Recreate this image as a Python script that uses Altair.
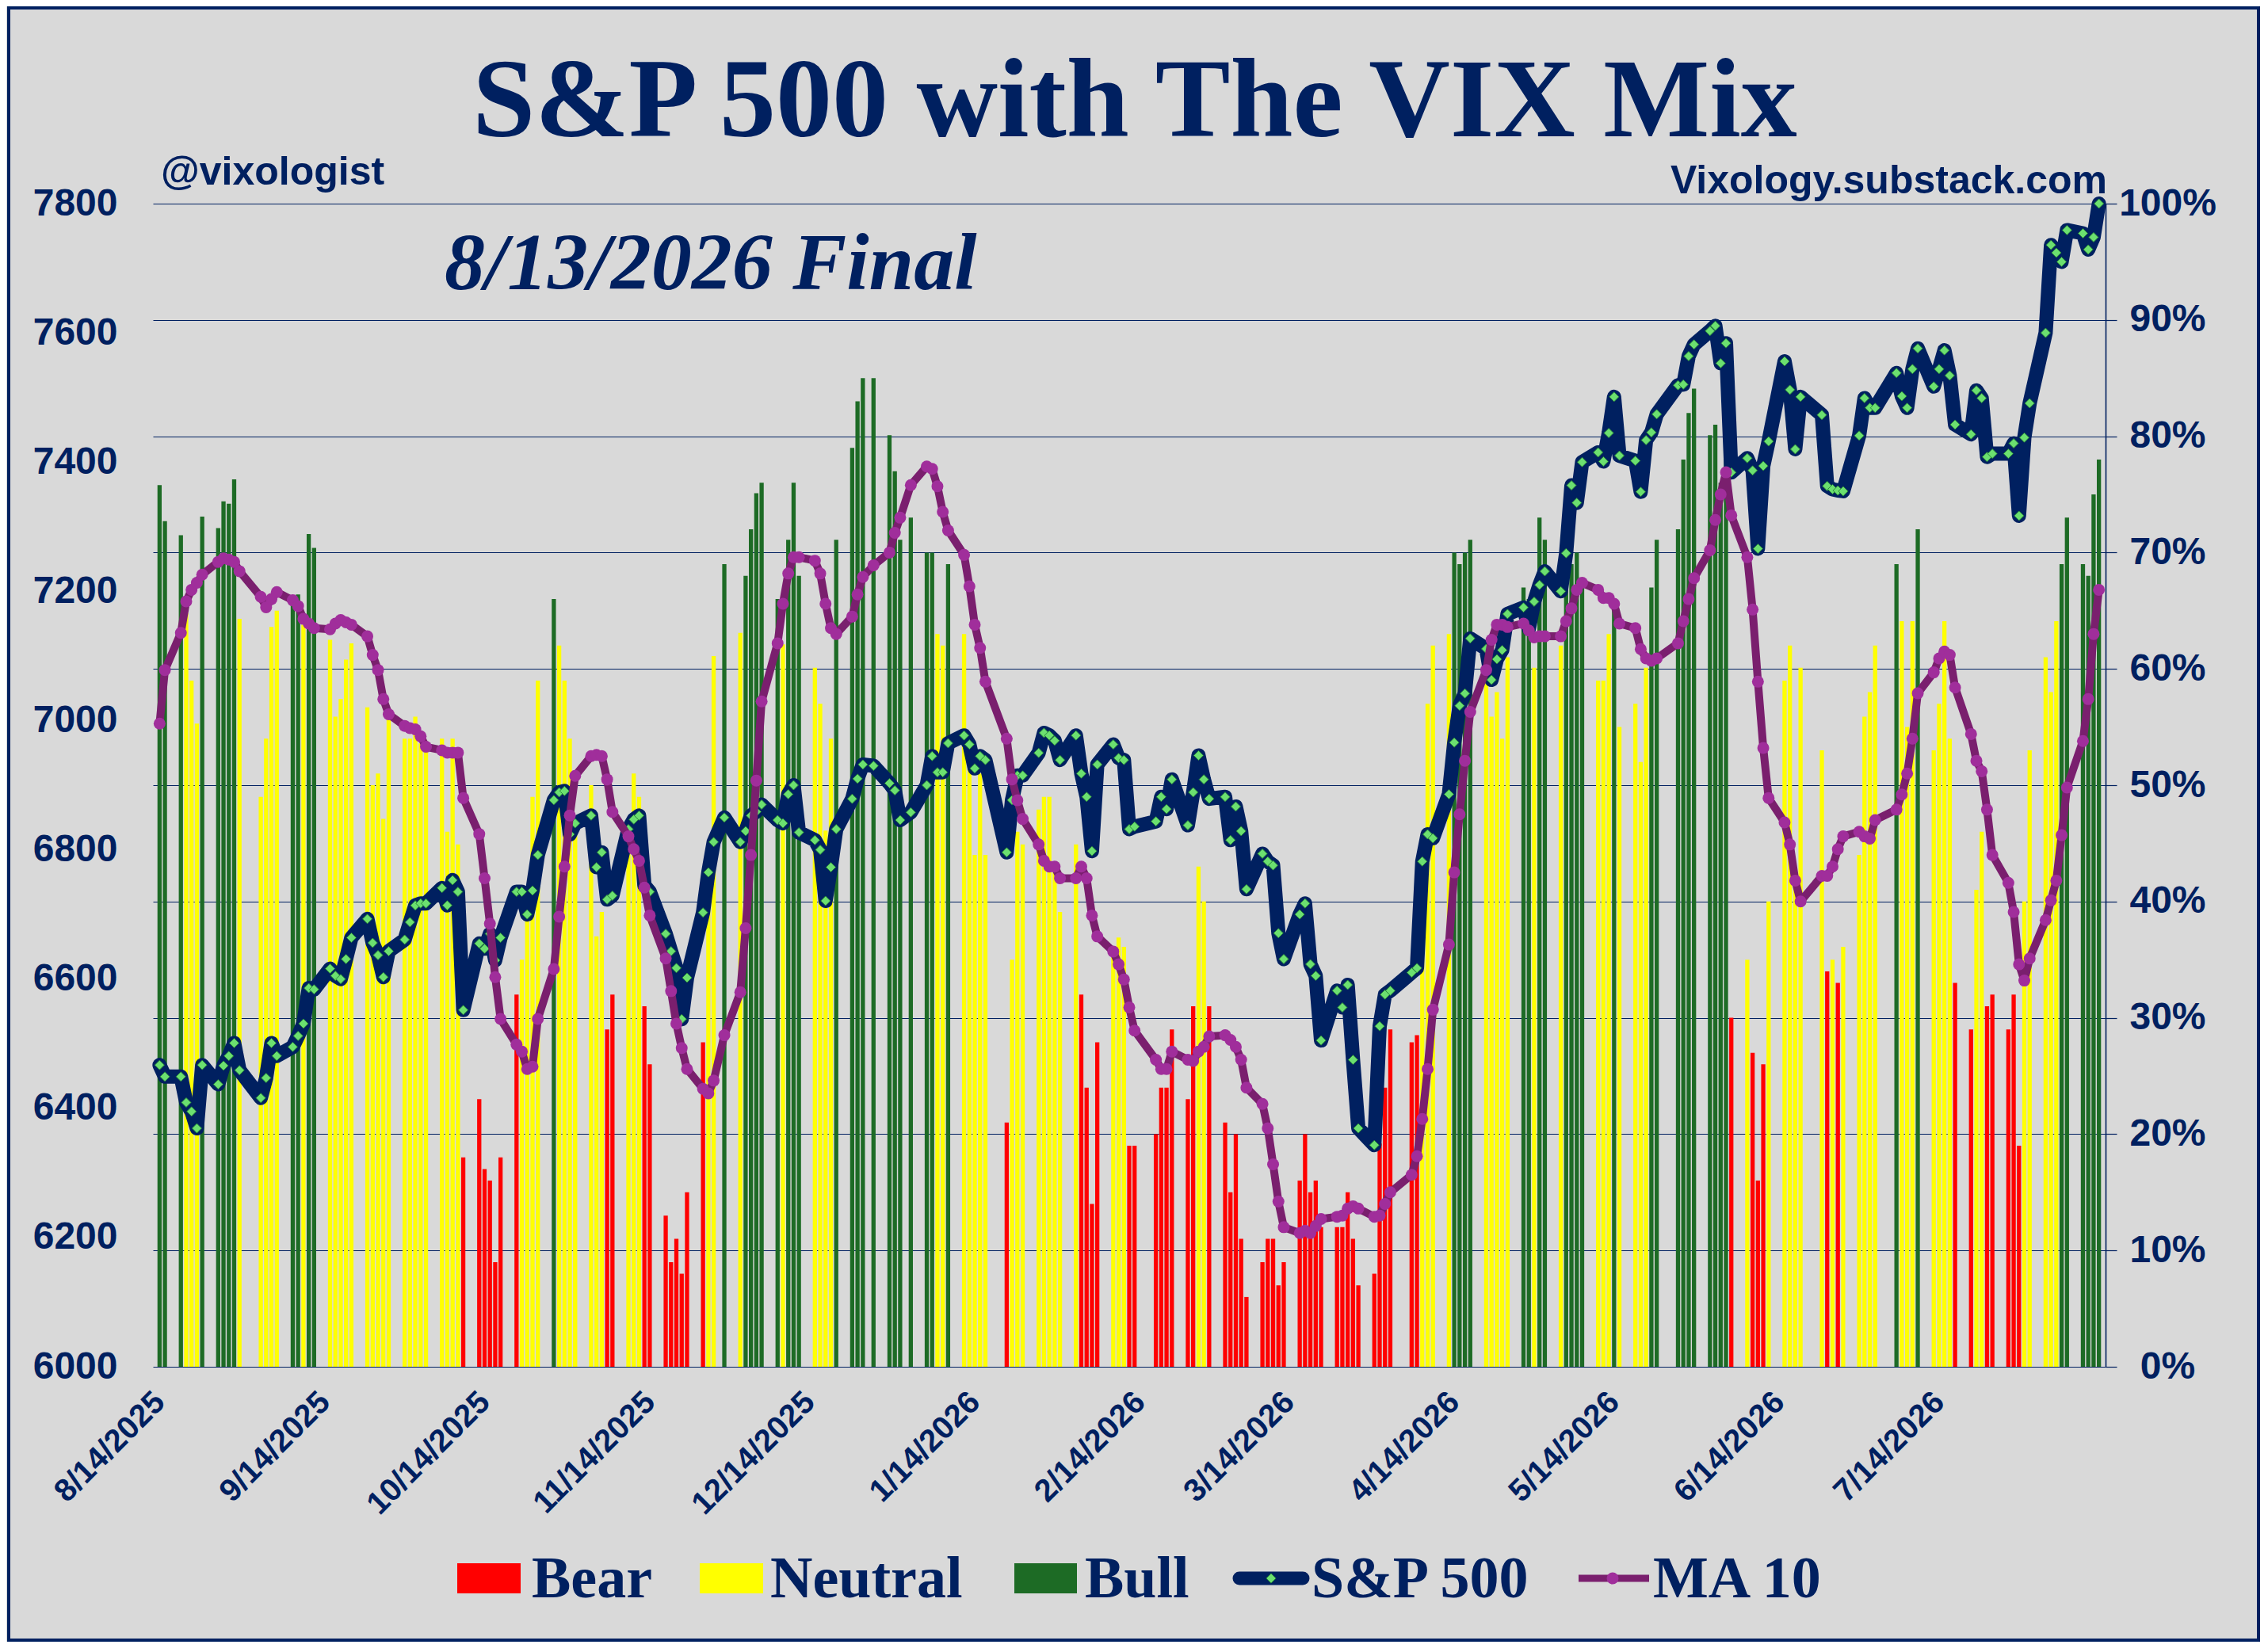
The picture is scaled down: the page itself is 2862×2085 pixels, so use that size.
import altair as alt
import pandas as pd

NAVY = "#002060"
BG = "#D9D9D9"
RED = "#FF0000"
YELLOW = "#FFFF00"
GREEN = "#1D6B25"
MA_LINE = "#7A1F6E"
MA_DOT = "#A02E9B"
DIAMOND_FILL = "#6CE070"
DIAMOND_EDGE = "#2A8A3A"

# ---- trading days (NYSE holidays removed) ----
holidays = ["2025-09-01", "2025-11-27", "2025-12-25", "2026-01-01", "2026-01-19",
            "2026-02-16", "2026-04-03", "2026-05-25", "2026-06-19", "2026-07-03"]
dates = [d.strftime("%Y-%m-%d") for d in pd.bdate_range("2025-08-14", "2026-08-13")
         if d.strftime("%Y-%m-%d") not in holidays]

# ---- VIX Mix (%) per day ----
mix_values = [
    75.8, 72.7, 71.5, 64.8, 59.0, 55.3, 73.1, 72.1, 74.4, 74.2, 76.3, 64.3,
    49.0, 54.0, 63.6, 65.0, 65.9, 66.4, 63.8, 71.6, 70.4, 62.5, 55.9, 57.4, 60.8, 62.2, 56.7, 50.0, 51.0, 47.1, 56.6,
    54.0, 54.0, 55.9, 53.6, 53.3, 54.0, 46.0, 54.0, 44.9, 18.0, 23.0, 17.0, 16.0, 9.0, 18.0,
    32.0, 35.0, 40.0, 49.0, 59.0, 66.0, 62.0, 59.0, 54.0, 46.0, 50.0, 37.0, 39.1, 29.0, 32.0, 44.1, 51.0, 49.0, 31.0, 26.0,
    13.0, 9.0, 11.0, 8.0, 15.0, 27.9, 40.0, 61.1, 69.0,
    63.1, 68.0, 72.0, 75.1, 76.0, 66.0, 62.1, 71.1, 76.0, 68.0, 60.1, 57.0, 46.1, 54.0, 71.1, 79.0, 83.0, 85.0, 85.0, 80.1, 77.0,
    71.1,
    73.0, 70.0, 70.0, 63.0, 62.0, 69.0, 63.0, 52.0, 44.0, 51.0, 44.0, 21.0, 35.0, 46.0, 44.9, 47.9, 49.0, 49.0, 42.5, 39.1,
    44.9, 32.0, 24.0, 14.0, 27.9, 35.6, 36.9, 36.1, 19.0, 19.0,
    20.0, 24.0, 24.0, 29.0, 23.0, 31.0, 43.0, 40.0, 31.0,
    21.0, 15.0, 20.0, 11.0, 6.0, 9.0, 11.0, 11.0, 7.0, 9.0, 16.0, 20.0, 15.0, 16.0, 12.0, 12.0, 12.0, 15.0, 11.0, 7.0, 8.0, 19.2,
    24.0,
    29.0, 27.9, 28.5, 35.0, 57.0, 62.0, 63.0, 70.0, 69.0, 70.0, 71.1, 62.0, 55.9, 58.0, 54.0, 61.0, 67.0, 66.0, 60.1, 73.0,
    71.1, 62.0, 67.7, 69.0, 70.0, 67.0, 59.0, 59.0, 63.0, 66.0, 55.0,
    57.0, 52.0, 60.1, 67.0, 71.1, 72.0, 78.0, 82.0, 84.1,
    80.1, 81.0, 76.0, 78.9, 30.0, 35.0, 27.0, 16.0, 26.0, 40.0, 59.0, 62.0, 42.2, 60.1, 53.0, 34.0, 35.0, 33.0, 36.1, 44.0, 55.9,
    58.0, 62.0,
    69.0, 64.1, 55.0, 64.1, 72.0, 53.0, 57.0, 64.1, 54.0, 33.0, 29.0, 41.0, 46.0, 31.0, 32.0, 29.0, 32.0, 19.0, 40.0, 53.0,
    61.0, 58.0, 64.1, 69.0, 73.0, 69.0, 68.0, 75.0, 78.0,
]

# ---- zone per day: R = Bear, Y = Neutral, G = Bull ----
zone_codes = (
    "GGGYYYGGGGGY" "YYYYGGYGGYYYYYYYYYY"
    "YYYYY" "YYYYR" "RRRRR" "RYYYY" "GYYYY" "YYYRR" "YYYRR"
    "RRRRRRYYG" "YGGGGGYGGGYYYYGGGGGGG"
    "G" "GGGYYGYYYYYRYYYYYYYY" "YRRRRYYYRR"
    "RRRRRRYYR" "RRRRRRRRRRRRRRRRRRRRRR" "R"
    "RRRYYYYGGGGYYYYYGGYG" "GYGGGGYYYGY"
    "YYYGGGGGG" "GGGGRYRRRYYYYYYRYRYYY" "YY"
    "GYYYGYYYYRRYYRRRRRYY" "YYYGGGGGG"
)
zone_names = {"R": "Bear", "Y": "Neutral", "G": "Bull"}

# ---- S&P 500 close per day ----
sp500_values = [
    6467, 6449, 6449, 6409, 6395, 6369, 6467, 6437, 6466, 6481, 6501, 6459,
    6416, 6447, 6501, 6481, 6495, 6512, 6531, 6586, 6584, 6616, 6605, 6600, 6631, 6664, 6693, 6656, 6637, 6603, 6643,
    6661, 6688, 6714, 6717, 6717, 6741, 6714, 6753, 6735, 6552, 6655, 6647, 6670, 6629, 6664,
    6735, 6735, 6700, 6737, 6792, 6877, 6889, 6891, 6824, 6841, 6853, 6773, 6796, 6723, 6729, 6832, 6847, 6853, 6745, 6735,
    6670, 6643, 6617, 6538, 6602, 6703, 6765, 6812, 6850,
    6812, 6829, 6853, 6859, 6870, 6846, 6841, 6886, 6900, 6827, 6815, 6800, 6721, 6773, 6832, 6879, 6910, 6932, 6930, 6903, 6892,
    6846,
    6858, 6900, 6945, 6920, 6920, 6965, 6977, 6963, 6926, 6945, 6939, 6796, 6877, 6915, 6915, 6950, 6981, 6977, 6969, 6939,
    6977, 6918, 6882, 6798, 6932, 6963, 6942, 6939, 6832, 6836,
    6844, 6882, 6863, 6909, 6838, 6889, 6946, 6909, 6879,
    6882, 6815, 6867, 6829, 6739, 6794, 6782, 6776, 6671, 6631, 6700, 6717, 6623, 6605, 6505, 6582, 6556, 6591, 6475, 6369, 6343, 6527,
    6576,
    6582, 6610, 6617, 6782, 6824, 6818, 6886, 6966, 7023, 7042, 7127, 7111, 7063, 7095, 7109, 7165, 7175, 7142, 7184, 7210,
    7231, 7200, 7259, 7364, 7337, 7400, 7415, 7401, 7445, 7501, 7410,
    7402, 7354, 7434, 7446, 7474, 7519, 7520, 7564, 7582,
    7603, 7611, 7553, 7584, 7384, 7406, 7387, 7266, 7394, 7432, 7556, 7512, 7420, 7501, 7473, 7363, 7358, 7356, 7355, 7441, 7499,
    7484, 7484,
    7538, 7502, 7484, 7544, 7576, 7517, 7544, 7573, 7534, 7458, 7443, 7511, 7499, 7408, 7413, 7413, 7429, 7317, 7438, 7491,
    7600, 7736, 7724, 7710, 7759, 7754, 7729, 7748, 7800,
]

# ---- MA 10 of the VIX Mix (%) per day ----
ma10_values = [
    55.3, 59.9, 63.1, 65.8, 66.8, 67.4, 68.1, 69.2, 69.5, 69.4, 69.2, 68.4,
    66.2, 65.3, 66.0, 66.6, 65.9, 65.4, 64.3, 63.9, 63.5, 63.4, 63.9, 64.2, 64.0, 63.8, 62.8, 61.2, 59.9, 57.4, 56.1,
    55.1, 54.9, 54.8, 54.2, 53.3, 53.0, 52.8, 52.8, 52.8, 48.9, 45.8, 42.0, 38.1, 33.5, 29.9,
    27.7, 27.1, 25.6, 25.8, 29.9, 34.2, 38.7, 43.0, 47.4, 50.8, 52.5, 52.6, 52.5, 50.5, 47.7, 45.6, 44.5, 43.5, 41.2, 38.8,
    35.1, 32.3, 29.5, 27.4, 25.6, 23.9, 23.5, 24.6, 28.5,
    32.2, 37.7, 44.0, 50.4, 57.2, 62.2, 65.6, 68.2, 69.6, 69.6, 69.3, 68.2, 65.6, 63.5, 63.0, 64.5, 66.4, 67.9, 68.9, 70.0, 71.7,
    73.0,
    75.8, 77.4, 77.2, 75.7, 73.5, 71.9, 69.8, 67.1, 63.8, 61.8, 58.9, 54.0, 50.5, 48.7, 47.1, 44.9, 43.5, 43.0, 43.0, 42.0,
    42.0, 43.0, 42.0, 38.8, 37.0, 35.7, 34.6, 33.3, 30.9, 28.9,
    26.4, 25.6, 25.6, 27.1, 26.4, 26.3, 27.1, 27.5, 28.4,
    28.5, 28.1, 27.5, 26.4, 24.0, 22.6, 20.5, 17.4, 14.2, 12.0, 11.5, 11.7, 11.5, 12.1, 12.7, 12.9, 13.0, 13.6, 13.8, 13.6, 12.9, 13.0,
    14.0,
    15.0, 16.5, 18.1, 21.3, 25.6, 30.7, 36.3, 42.5, 47.5, 52.1, 56.3, 59.9, 62.5, 63.8, 63.8, 63.6, 63.9, 63.3, 62.7, 62.8,
    62.8, 62.8, 64.1, 65.2, 66.8, 67.4, 66.8, 66.1, 66.1, 65.6, 63.9,
    63.5, 61.7, 60.9, 60.7, 60.9, 62.2, 64.1, 66.0, 67.8,
    70.2, 72.8, 75.0, 76.9, 73.2, 69.6, 65.1, 58.9, 53.2, 48.9, 46.8, 44.9, 41.8, 40.0, 42.2, 42.2, 43.0, 44.5, 45.6, 46.0, 45.6,
    45.4, 47.0,
    47.9, 49.2, 51.0, 54.0, 57.9, 59.7, 60.9, 61.5, 61.2, 58.4, 54.4, 52.1, 51.2, 47.9, 44.0, 41.6, 39.1, 34.6, 33.2, 35.1,
    38.4, 40.1, 41.8, 45.7, 49.8, 53.8, 57.4, 63.0, 66.8,
]

# ---- axis ticks ----
x_tick_dates = [(2025, m) for m in range(8, 13)] + [(2026, m) for m in range(1, 8)]
sp_ticks = list(range(6000, 7801, 200))
pct_ticks = list(range(0, 101, 10))

n = len(dates)
assert n == len(mix_values) == len(sp500_values) == len(ma10_values) == len(zone_codes), (
    n, len(mix_values), len(sp500_values), len(ma10_values), len(zone_codes))

df = pd.DataFrame({
    "date": dates,
    "mix": mix_values,
    "zone": [zone_names[c] for c in zone_codes],
    "sp": sp500_values,
    "ma": ma10_values,
})

W, H = 2464, 1468

x_scale = alt.Scale(
    type="utc",
    domain=[alt.DateTime(year=2025, month=8, date=13, hours=12, utc=True),
            alt.DateTime(year=2026, month=8, date=13, hours=12, utc=True)],
)
x_axis = alt.Axis(
    values=[alt.DateTime(year=y, month=m, date=14, utc=True) for y, m in x_tick_dates],
    labelExpr="utcFormat(datum.value, '%-m/%-d/%Y')",
    labelAngle=-45, labelAlign="right", labelBaseline="middle",
    labelFont="Liberation Sans", labelFontWeight="bold", labelFontSize=40,
    labelColor=NAVY, labelPadding=38, labelFlush=False, labelOverlap=False,
    labelLimit=600,
    domain=False, ticks=False, grid=False, title=None,
)
x_enc = alt.X("date:T", scale=x_scale, axis=x_axis)

pct_scale = alt.Scale(domain=[0, 100], nice=False, zero=True)
sp_scale = alt.Scale(domain=[6000, 7800], nice=False, zero=False)

pct_axis = alt.Axis(
    orient="right", values=pct_ticks, labelExpr="datum.value + '%'",
    grid=True, gridColor=NAVY, gridWidth=1.2,
    domain=True, domainColor=NAVY, domainWidth=1.6,
    ticks=True, tickSize=14, tickColor=NAVY, tickWidth=1.2,
    labelFont="Liberation Sans", labelFontWeight="bold", labelFontSize=48,
    labelColor=NAVY, labelAlign="center", labelPadding=64, title=None,
)
sp_axis = alt.Axis(
    orient="left", values=sp_ticks, format="d",
    grid=False, domain=False, ticks=False,
    labelFont="Liberation Sans", labelFontWeight="bold", labelFontSize=48,
    labelColor=NAVY, labelPadding=45, title=None,
)

base = alt.Chart(df)

bars = base.mark_bar(width=5.3).encode(
    x=x_enc,
    y=alt.Y("mix:Q", scale=pct_scale, axis=pct_axis),
    color=alt.Color("zone:N",
                    scale=alt.Scale(domain=["Bear", "Neutral", "Bull"], range=[RED, YELLOW, GREEN]),
                    legend=None),
)

sp_line = base.mark_line(color=NAVY, strokeWidth=18, strokeJoin="round", strokeCap="round").encode(
    x=x_enc, y=alt.Y("sp:Q", scale=sp_scale, axis=sp_axis),
)
sp_pts = base.mark_point(shape="diamond", filled=True, size=144, fill=DIAMOND_FILL,
                         stroke=DIAMOND_EDGE, strokeWidth=1, opacity=1).encode(
    x=x_enc, y=alt.Y("sp:Q", scale=sp_scale, axis=None),
)

ma_line = base.mark_line(color=MA_LINE, strokeWidth=10, strokeJoin="round").encode(
    x=x_enc, y=alt.Y("ma:Q", scale=pct_scale, axis=None),
)
ma_pts = base.mark_circle(size=225, color=MA_DOT, opacity=1).encode(
    x=x_enc, y=alt.Y("ma:Q", scale=pct_scale, axis=None),
)

one = alt.Data(values=[{}])


def txt(s, x, y, size, font="Liberation Serif", align="left", style="normal"):
    return alt.Chart(one).mark_text(
        text=s, font=font, fontSize=size, fontWeight="bold", fontStyle=style,
        color=NAVY, align=align, baseline="alphabetic",
    ).encode(x=alt.value(x), y=alt.value(y))


def box(x1, x2, y1, y2, color):
    return alt.Chart(one).mark_rect(color=color).encode(
        x=alt.value(x1), x2=alt.value(x2), y=alt.value(y1), y2=alt.value(y2))


title = txt("S&P 500 with The VIX Mix", 1239, -85, 142, align="center")
handle = txt("@vixologist", 10, -24, 50, font="Liberation Sans")
site = txt("Vixology.substack.com", 2466, -13, 50, font="Liberation Sans", align="right")
stamp = txt("8/13/2026 Final", 368, 108, 102, style="italic")

LY = 1735
leg = [
    box(384, 464, 1716, 1754, RED), txt("Bear", 478, 1759, 74),
    box(690, 770, 1716, 1754, YELLOW), txt("Neutral", 779, 1759, 74),
    box(1087, 1166, 1716, 1754, GREEN), txt("Bull", 1176, 1759, 74),
    alt.Chart(one).mark_rule(color=NAVY, strokeWidth=17, strokeCap="round").encode(
        x=alt.value(1371), x2=alt.value(1451), y=alt.value(LY)),
    alt.Chart(one).mark_point(shape="diamond", filled=True, size=150, fill=DIAMOND_FILL,
                              stroke=DIAMOND_EDGE, strokeWidth=1, opacity=1).encode(
        x=alt.value(1411), y=alt.value(LY)),
    txt("S&P 500", 1462, 1759, 74),
    alt.Chart(one).mark_rule(color=MA_LINE, strokeWidth=9).encode(
        x=alt.value(1799), x2=alt.value(1888), y=alt.value(LY)),
    alt.Chart(one).mark_circle(size=225, color=MA_DOT, opacity=1).encode(
        x=alt.value(1842), y=alt.value(LY)),
    txt("MA 10", 1893, 1759, 74),
]

frame = alt.Chart(one).mark_rect(fill="transparent", stroke=NAVY, strokeWidth=4).encode(
    x=alt.value(-182), x2=alt.value(2657), y=alt.value(-247), y2=alt.value(1813))

chart = alt.layer(
    bars, sp_line, sp_pts, ma_line, ma_pts,
    title, handle, site, stamp, *leg, frame,
).resolve_scale(y="independent").properties(
    width=W, height=H,
    padding={"left": 185, "top": 249, "right": 195, "bottom": 347},
    autosize=alt.AutoSizeParams(type="none"),
    background=BG,
).configure_view(strokeWidth=0)

chart.save("out.html", embed_options={"renderer": "svg", "actions": False})
